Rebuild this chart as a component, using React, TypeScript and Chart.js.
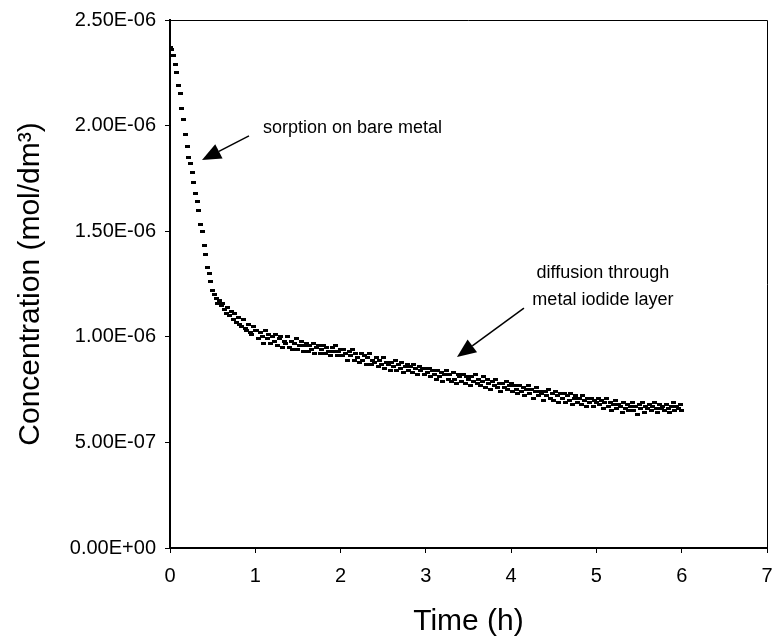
import { useEffect, useRef } from "react";
import { Chart, registerables } from "chart.js";

Chart.register(...registerables);

// Sampling interval of the measurement (h)
const SAMPLE_INTERVAL_H = 0.02;

// Concentration readings (in 1e-6 mol/dm3), one per sample, t = 0 ... 6 h
const CONCENTRATION_E6 = [
  2.37, 2.36, 2.33, 2.29, 2.25, 2.19, 2.15, 2.08, 2.03, 1.96,
  1.90, 1.85, 1.82, 1.78, 1.73, 1.68, 1.64, 1.60, 1.53, 1.50,
  1.43, 1.39, 1.33, 1.30, 1.26, 1.22, 1.20, 1.18, 1.16, 1.17,
  1.15, 1.16, 1.13, 1.11, 1.14, 1.10, 1.12, 1.08, 1.11, 1.07,
  1.09, 1.06, 1.05, 1.08, 1.04, 1.03, 1.06, 1.02, 1.01, 1.05,
  1.03,
  1.03, 0.99, 1.02, 1.00, 0.97, 1.03, 0.99, 1.01, 0.97, 1.00,
  0.98, 1.01, 0.96, 0.99, 1.00, 0.95, 0.98, 0.97, 1.00, 0.95,
  0.98, 0.94, 0.97, 0.99, 0.94, 0.96, 0.98, 0.93, 0.96, 0.97,
  0.93, 0.96, 0.94, 0.97, 0.92, 0.95, 0.96, 0.92, 0.94, 0.96,
  0.92, 0.95, 0.93, 0.91, 0.95, 0.93, 0.96, 0.91, 0.93, 0.94,
  0.91, 0.94, 0.92, 0.89, 0.93, 0.91, 0.94, 0.89, 0.92, 0.90,
  0.88, 0.92, 0.89, 0.91, 0.87, 0.90, 0.92, 0.87, 0.89, 0.88,
  0.90, 0.86, 0.89, 0.87, 0.90, 0.85, 0.88, 0.87, 0.84, 0.88,
  0.86, 0.89, 0.84, 0.87, 0.85, 0.88, 0.83, 0.86, 0.87, 0.84,
  0.86, 0.83, 0.87, 0.85, 0.82, 0.86, 0.84, 0.85, 0.82, 0.85,
  0.83, 0.85, 0.81, 0.84, 0.82, 0.80, 0.84, 0.81, 0.83, 0.79,
  0.82, 0.84, 0.80, 0.82, 0.79, 0.83, 0.80, 0.78, 0.82, 0.81,
  0.79, 0.82, 0.78, 0.81, 0.80, 0.77, 0.81, 0.79, 0.82, 0.78,
  0.80, 0.77, 0.79, 0.81, 0.76, 0.80, 0.78, 0.75, 0.79, 0.77,
  0.80, 0.76, 0.78, 0.74, 0.78, 0.76, 0.79, 0.75, 0.77, 0.78,
  0.74, 0.77, 0.75, 0.73, 0.77, 0.74, 0.76, 0.72, 0.75, 0.77,
  0.73, 0.75, 0.71, 0.74, 0.76, 0.72, 0.74, 0.73, 0.70, 0.74,
  0.72, 0.75, 0.71, 0.73, 0.70, 0.74, 0.72, 0.69, 0.73, 0.71,
  0.73, 0.69, 0.72, 0.70, 0.73, 0.68, 0.71, 0.72, 0.69, 0.71,
  0.68, 0.72, 0.70, 0.67, 0.71, 0.69, 0.71, 0.67, 0.70, 0.69,
  0.71, 0.68, 0.70, 0.66, 0.69, 0.71, 0.67, 0.69, 0.65, 0.68,
  0.70, 0.66, 0.68, 0.67, 0.64, 0.69, 0.66, 0.68, 0.65, 0.67,
  0.69, 0.65, 0.67, 0.63, 0.68, 0.66, 0.69, 0.64, 0.67, 0.66,
  0.68, 0.65, 0.67, 0.69, 0.66, 0.64, 0.68, 0.66, 0.67, 0.65,
  0.68, 0.66, 0.64, 0.67, 0.69, 0.65, 0.67, 0.66, 0.68, 0.65,
];

const X_TICKS = [0, 1, 2, 3, 4, 5, 6, 7];
const Y_TICKS = [0, 0.5e-6, 1.0e-6, 1.5e-6, 2.0e-6, 2.5e-6];

const X_TITLE = "Time (h)";
const Y_TITLE = "Concentration (mol/dm\u00B3)";

// Annotations (positions in data units: hours, 1e-6 mol/dm3)
const NOTE1_LINES = ["sorption on bare metal"];
const NOTE1_TEXT_X = [1.09];
const NOTE1_TEXT_Y = [1.989];
const NOTE1_ARROW = [0.926, 1.951, 0.375, 1.837];

const NOTE2_LINES = ["diffusion through", "metal iodide layer"];
const NOTE2_TEXT_X = [5.076, 5.076];
const NOTE2_TEXT_Y = [1.302, 1.174];
const NOTE2_ARROW = [4.15, 1.136, 3.365, 0.904];

function sciLabel(v: number): string {
  if (Math.abs(v) < 1e-15) return "0.00E+00";
  const e = Math.floor(Math.log10(Math.abs(v)) + 1e-9);
  const m = v / Math.pow(10, e);
  const sign = e < 0 ? "-" : "+";
  return m.toFixed(2) + "E" + sign + String(Math.abs(e)).padStart(2, "0");
}

const FONT = "'Liberation Sans', Arial, sans-serif";

function makeMarker(): HTMLCanvasElement {
  const c = document.createElement("canvas");
  c.width = 5;
  c.height = 3;
  const g = c.getContext("2d")!;
  g.fillStyle = "#000";
  g.fillRect(0, 0, 5, 3);
  return c;
}

const framePlugin = {
  id: "frame",
  afterDraw(chart: any) {
    const { ctx, chartArea } = chart;
    ctx.save();
    ctx.strokeStyle = "#000";
    ctx.lineWidth = 1;
    ctx.beginPath();
    ctx.moveTo(chartArea.left, chartArea.top + 0.5);
    ctx.lineTo(chartArea.right + 0.5, chartArea.top + 0.5);
    ctx.lineTo(chartArea.right + 0.5, chartArea.bottom);
    ctx.stroke();
    ctx.restore();
  },
};

function drawArrow(ctx: CanvasRenderingContext2D, x1: number, y1: number, x2: number, y2: number) {
  const ang = Math.atan2(y2 - y1, x2 - x1);
  const headLen = 19;
  const headHalf = 8;
  const bx = x2 - headLen * Math.cos(ang);
  const by = y2 - headLen * Math.sin(ang);
  ctx.beginPath();
  ctx.moveTo(x1, y1);
  ctx.lineTo(bx, by);
  ctx.stroke();
  ctx.beginPath();
  ctx.moveTo(x2, y2);
  ctx.lineTo(bx + headHalf * Math.sin(ang), by - headHalf * Math.cos(ang));
  ctx.lineTo(bx - headHalf * Math.sin(ang), by + headHalf * Math.cos(ang));
  ctx.closePath();
  ctx.fill();
}

const notesPlugin = {
  id: "notes",
  afterDatasetsDraw(chart: any) {
    const { ctx, scales } = chart;
    const xs = scales.x;
    const ys = scales.y;
    const px = (t: number) => xs.getPixelForValue(t);
    const py = (c: number) => ys.getPixelForValue(c * 1e-6);
    ctx.save();
    ctx.fillStyle = "#000";
    ctx.strokeStyle = "#000";
    ctx.lineWidth = 1.5;
    ctx.font = `18px ${FONT}`;
    ctx.textBaseline = "middle";
    ctx.textAlign = "left";
    NOTE1_LINES.forEach((s, i) => ctx.fillText(s, px(NOTE1_TEXT_X[i]), py(NOTE1_TEXT_Y[i])));
    ctx.textAlign = "center";
    NOTE2_LINES.forEach((s, i) => ctx.fillText(s, px(NOTE2_TEXT_X[i]), py(NOTE2_TEXT_Y[i])));
    drawArrow(ctx, px(NOTE1_ARROW[0]), py(NOTE1_ARROW[1]), px(NOTE1_ARROW[2]), py(NOTE1_ARROW[3]));
    drawArrow(ctx, px(NOTE2_ARROW[0]), py(NOTE2_ARROW[1]), px(NOTE2_ARROW[2]), py(NOTE2_ARROW[3]));
    ctx.restore();
  },
};

export default function App() {
  const ref = useRef<HTMLCanvasElement | null>(null);

  useEffect(() => {
    if (!ref.current) return;
    const points = CONCENTRATION_E6.map((c, i) => ({ x: i * SAMPLE_INTERVAL_H, y: c * 1e-6 }));
    const marker = makeMarker();
    const chart = new Chart(ref.current, {
      type: "scatter",
      data: {
        datasets: [
          {
            data: points,
            pointStyle: marker as any,
            pointRadius: 2,
            backgroundColor: "#000",
            borderWidth: 0,
          },
        ],
      },
      options: {
        animation: false,
        responsive: false,
        devicePixelRatio: 1,
        layout: { padding: { top: 20, right: 5, left: 0, bottom: 0 } },
        plugins: { legend: { display: false }, tooltip: { enabled: false } },
        scales: {
          x: {
            type: "linear",
            min: 0,
            max: 7,
            afterBuildTicks: (s: any) => {
              s.ticks = X_TICKS.map((v) => ({ value: v }));
            },
            afterFit: (s: any) => {
              s.height = 93;
              s.paddingLeft = 0;
              s.paddingRight = 0;
            },
            ticks: {
              color: "#000",
              font: { family: FONT, size: 20 },
              padding: 11,
              maxRotation: 0,
              autoSkip: false,
              callback: (v: any) => String(v),
            },
            grid: { drawOnChartArea: false, drawTicks: true, tickLength: 5, color: "#000" },
            border: { display: true, color: "#000", width: 2 },
            title: {
              display: true,
              text: X_TITLE,
              color: "#000",
              font: { family: FONT, size: 30 },
              padding: { top: 0, bottom: 1 },
            },
          },
          y: {
            type: "linear",
            min: 0,
            max: 2.5e-6,
            afterBuildTicks: (s: any) => {
              s.ticks = Y_TICKS.map((v) => ({ value: v }));
            },
            afterFit: (s: any) => {
              s.width = 170;
              s.paddingTop = 0;
              s.paddingBottom = 0;
            },
            ticks: {
              color: "#000",
              font: { family: FONT, size: 20 },
              padding: 9,
              autoSkip: false,
              callback: (v: any) => sciLabel(Number(v)),
            },
            grid: { drawOnChartArea: false, drawTicks: true, tickLength: 5, color: "#000" },
            border: { display: true, color: "#000", width: 2 },
            title: {
              display: true,
              text: Y_TITLE,
              color: "#000",
              font: { family: FONT, size: 30 },
              padding: { top: 13, bottom: 0 },
            },
          },
        },
      },
      plugins: [framePlugin, notesPlugin],
    });
    return () => chart.destroy();
  }, []);

  return (
    <div style={{ position: "absolute", left: 0, top: 0, width: 772, height: 641, background: "#fff" }}>
      <canvas ref={ref} width={772} height={641} style={{ width: 772, height: 641 }} />
    </div>
  );
}
